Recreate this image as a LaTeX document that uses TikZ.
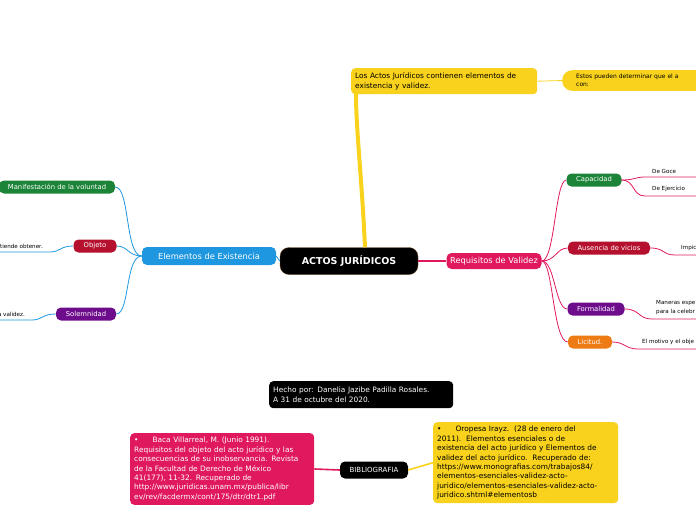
\documentclass[tikz,border=0pt]{standalone}
\usepackage{fontspec}
\setmainfont{DejaVu Sans}
\usetikzlibrary{positioning}

\definecolor{mBlue}{HTML}{1E96E0}
\definecolor{mPink}{HTML}{E0195F}
\definecolor{mGreen}{HTML}{1B8438}
\definecolor{mRed}{HTML}{B5102D}
\definecolor{mPurple}{HTML}{6E0D8C}
\definecolor{mOrange}{HTML}{EE7A14}
\definecolor{mYellow}{HTML}{F8D21C}

\begin{document}
\begin{tikzpicture}[
    x=1pt, y=-1pt,
    topic/.style={rounded corners=5pt, text=white, inner sep=2pt, font=\fontsize{6.8}{8}\selectfont, minimum height=13pt},
    main/.style={rounded corners=5pt, text=white, inner sep=3pt, font=\fontsize{8.3}{10}\selectfont},
    note/.style={font=\fontsize{5.6}{7}\selectfont, anchor=west, inner sep=1pt},
    body/.style={rounded corners=4pt, align=left, anchor=north west, inner sep=4pt, font=\fontsize{7.4}{9.4}\selectfont},
    link/.style={line width=0.8pt}
]
\useasboundingbox (0,0) rectangle (696,520);
\clip (0,0) rectangle (696,520);

% Central topic
\node[main, fill=black, draw=brown!60!black, font=\fontsize{9.5}{10}\selectfont\bfseries, minimum width=138pt, minimum height=27pt, rounded corners=9pt] (actos) at (349,261) {ACTOS JURÍDICOS};

% Top branch
\node[body, fill=mYellow, text=black, text width=178pt, minimum height=26pt] (intro) at (351,68) {Los Actos Jurídicos contienen elementos de\\existencia y validez.};
\node[body, fill=mYellow, text=black, text width=186pt, rounded corners=10pt, font=\fontsize{6}{8}\selectfont, inner xsep=14pt] (estos) at (562,70) {Estos pueden determinar que el a\\con:};
\draw[mYellow, line width=4pt] (actos.north) ++(16,0) .. controls (362,180) and (356,130) .. (356,94);
\draw[mYellow, link] (intro.east) -- (estos.west);

% Left branch
\node[main, fill=mBlue, minimum width=134pt, minimum height=18pt] (exist) at (209,256) {Elementos de Existencia};
\node[topic, fill=mGreen, minimum width=116pt] (volun) at (57,187) {Manifestación de la voluntad};
\node[topic, fill=mRed, minimum width=43pt] (objeto) at (95,246) {Objeto};
\node[topic, fill=mPurple, minimum width=60pt] (solem) at (86,314) {Solemnidad};
\node[note, anchor=east] (objtxt) at (44,246) {tiende obtener.};
\node[note, anchor=east] (soltxt) at (26,314) {a validez.};
\coordinate (objend) at (0,252);
\coordinate (solend) at (0,320);

\draw[mBlue, link] (actos.west) -- (exist.east);
\draw[mBlue, link] (exist.west) .. controls (125,256) and (130,187) .. (volun.east);
\draw[mBlue, link] (exist.west) .. controls (128,256) and (128,246) .. (objeto.east);
\draw[mBlue, link] (exist.west) .. controls (125,256) and (130,314) .. (solem.east);
\draw[mBlue, link] (objeto.west) .. controls (60,246) and (60,252) .. (50,252) -- (objend);
\draw[mBlue, link] (solem.west) .. controls (42,314) and (42,320) .. (32,320) -- (solend);

% Right branch
\node[main, fill=mPink, minimum width=95pt, minimum height=16pt] (valid) at (494,261) {Requisitos de Validez};
\node[topic, fill=mGreen, minimum width=55pt] (capac) at (594,180) {Capacidad};
\node[topic, fill=mRed, minimum width=82pt] (vicios) at (609,248) {Ausencia de vicios};
\node[topic, fill=mPurple, minimum width=57pt] (formal) at (596,309) {Formalidad};
\node[topic, fill=mOrange, minimum width=44pt] (licit) at (590,342) {Licitud.};

\node[note] (goce) at (651,171) {De Goce};
\node[note] (ejerc) at (651,189) {De Ejercicio};
\node[note] (impic) at (680,248) {Impic};
\node[note, align=left, font=\fontsize{5.6}{9}\selectfont] (maneras) at (655,308) {Maneras espe\\para la celebr};
\node[note] (motivo) at (641,342) {El motivo y el obje};
\coordinate (goceend) at (696,177);
\coordinate (ejercend) at (696,196);
\coordinate (impicend) at (696,255);
\coordinate (manerasend) at (696,319);
\coordinate (motivoend) at (696,349);

\draw[mPink, line width=1.6pt] (actos.east) -- (valid.west);
\draw[mPink, link] (valid.east) .. controls (555,261) and (555,180) .. (capac.west);
\draw[mPink, link] (valid.east) .. controls (556,261) and (556,248) .. (vicios.west);
\draw[mPink, link] (valid.east) .. controls (555,261) and (555,309) .. (formal.west);
\draw[mPink, link] (valid.east) .. controls (553,261) and (553,342) .. (licit.west);
\draw[mPink, link] (capac.east) .. controls (635,180) and (635,177) .. (645,177) -- (goceend);
\draw[mPink, link] (capac.east) .. controls (635,180) and (632,196) .. (645,196) -- (ejercend);
\draw[mPink, link] (vicios.east) .. controls (665,248) and (662,255) .. (675,255) -- (impicend);
\draw[mPink, link] (formal.east) .. controls (640,309) and (638,319) .. (652,319) -- (manerasend);
\draw[mPink, link] (licit.east) .. controls (625,342) and (625,349) .. (638,349) -- (motivoend);

% Author
\node[body, fill=black, text=white, text width=176pt, minimum height=27pt] (hecho) at (269,381) {Hecho por: Danelia Jazibe Padilla Rosales.\\A 31 de octubre del 2020.};

% Bibliography
\node[main, fill=black, font=\fontsize{7}{8}\selectfont, minimum height=17pt, minimum width=68pt] (biblio) at (374,470) {BIBLIOGRAFIA};
\node[body, fill=mPink, text=white, text width=176pt] (baca) at (130,433) {•\hspace{14pt}Baca Villarreal, M. (Junio 1991).\\Requisitos del objeto del acto jurídico y las\\consecuencias de su inobservancia. Revista\\de la Facultad de Derecho de México\\41(177), 11-32. Recuperado de\\http://www.juridicas.unam.mx/publica/libr\\ev/rev/facdermx/cont/175/dtr/dtr1.pdf};
\node[body, fill=mYellow, text=black, text width=177pt] (oropesa) at (433,422) {•\hspace{14pt}Oropesa Irayz.\ \ (28 de enero del\\2011).\ \ Elementos esenciales o de\\existencia del acto jurídico y Elementos de\\validez del acto jurídico.\ \ Recuperado de:\\https://www.monografias.com/trabajos84/\\elementos-esenciales-validez-acto-\\juridico/elementos-esenciales-validez-acto-\\juridico.shtml\#elementosb};
\draw[mPink, line width=1.6pt] (biblio.west) -- (baca.east);
\draw[mYellow, line width=1.6pt] (biblio.east) -- (oropesa.west);
\end{tikzpicture}
\end{document}
